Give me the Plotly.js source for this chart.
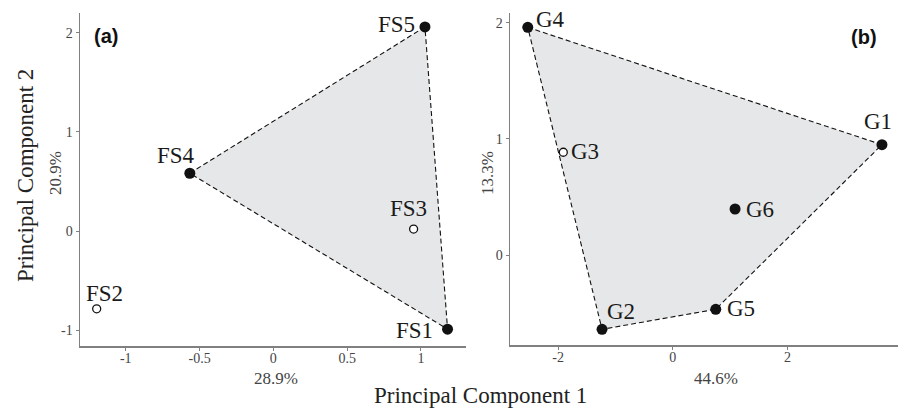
<!DOCTYPE html>
<html>
<head>
<meta charset="utf-8">
<script src="https://cdn.plot.ly/plotly-3.0.1.min.js"></script>
<style>html,body{margin:0;padding:0;background:#fff}#chart{width:901px;height:408px}</style>
</head>
<body>
<div id="chart"></div>
<script>
// Panel (a)
const labelsA = ["FS1", "FS2", "FS3", "FS4", "FS5"];
const pc1A = [1.18, -1.197, 0.95, -0.566, 1.027];
const pc2A = [-0.99, -0.785, 0.02, 0.583, 2.06];
const filledA = [true, false, false, true, true];
const hullA = ["FS5", "FS4", "FS1"];
// Panel (b)
const labelsB = ["G1", "G2", "G3", "G4", "G5", "G6"];
const pc1B = [3.65, -1.234, -1.91, -2.53, 0.75, 1.087];
const pc2B = [0.951, -0.636, 0.886, 1.96, -0.464, 0.398];
const filledB = [true, true, false, true, true, true];
const hullB = ["G4", "G1", "G5", "G2"];
// Tick labels
const xTicksA = [-1, -0.5, 0, 0.5, 1];
const xTickTextA = ["-1", "-0.5", "0", "0.5", "1"];
const yTicksA = [-1, 0, 1, 2];
const yTickTextA = ["-1", "0", "1", "2"];
const xTicksB = [-2, 0, 2];
const xTickTextB = ["-2", "0", "2"];
const yTicksB = [0, 1, 2];
const yTickTextB = ["0", "1", "2"];
const varA = ["28.9%", "20.9%"];
const varB = ["44.6%", "13.3%"];

// label placement (style)
const placeA = {
  FS1: {xa: "right", dx: -13, dy: -1},
  FS2: {xa: "center", dx: 8, dy: 15},
  FS3: {xa: "center", dx: -5, dy: 21},
  FS4: {xa: "right", dx: 7, dy: 18},
  FS5: {xa: "right", dx: -8, dy: 2}
};
const placeB = {
  G1: {xa: "center", dx: -4, dy: 23},
  G2: {xa: "left", dx: 3, dy: 18},
  G3: {xa: "left", dx: 6, dy: 1},
  G4: {xa: "left", dx: 6, dy: 8},
  G5: {xa: "left", dx: 9, dy: 1},
  G6: {xa: "left", dx: 9, dy: 0}
};

const serif = "Liberation Serif, Times New Roman, serif";

function hullTrace(labels, xs, ys, hull, xa, ya) {
  const hx = [], hy = [];
  hull.concat([hull[0]]).forEach(l => { const i = labels.indexOf(l); hx.push(xs[i]); hy.push(ys[i]); });
  return {x: hx, y: hy, xaxis: xa, yaxis: ya, mode: "lines", fill: "toself",
    fillcolor: "#e6e7e8", line: {color: "#111", width: 1.1, dash: "5px,3px"}, hoverinfo: "skip", showlegend: false};
}
function pointTraces(labels, xs, ys, filled, xa, ya) {
  const fx = [], fy = [], ox = [], oy = [];
  labels.forEach((l, i) => { if (filled[i]) { fx.push(xs[i]); fy.push(ys[i]); } else { ox.push(xs[i]); oy.push(ys[i]); } });
  return [
    {x: fx, y: fy, xaxis: xa, yaxis: ya, mode: "markers", marker: {color: "#111", size: 11}, showlegend: false},
    {x: ox, y: oy, xaxis: xa, yaxis: ya, mode: "markers", marker: {color: "#fff", size: 8, line: {color: "#111", width: 1.3}}, showlegend: false}
  ];
}
function labelAnns(labels, xs, ys, place, xref, yref) {
  return labels.map((l, i) => ({x: xs[i], y: ys[i], xref: xref, yref: yref, text: l, showarrow: false,
    xanchor: place[l].xa, yanchor: "middle", xshift: place[l].dx, yshift: place[l].dy,
    font: {family: serif, size: 23, color: "#1a1a1a"}}));
}

const data = [
  hullTrace(labelsA, pc1A, pc2A, hullA, "x", "y"),
  ...pointTraces(labelsA, pc1A, pc2A, filledA, "x", "y"),
  hullTrace(labelsB, pc1B, pc2B, hullB, "x2", "y2"),
  ...pointTraces(labelsB, pc1B, pc2B, filledB, "x2", "y2")
];

const W = 901, H = 408;
const axisCommon = {showline: true, linecolor: "#808080", linewidth: 1.5, ticks: "outside", ticklen: 3,
  tickcolor: "#808080", tickwidth: 1, showgrid: false, zeroline: false,
  tickfont: {family: serif, size: 14, color: "#444"}, fixedrange: true};

const layout = {
  width: W, height: H, margin: {l: 0, r: 0, t: 0, b: 0},
  paper_bgcolor: "#fff", plot_bgcolor: "#fff", showlegend: false,
  xaxis: Object.assign({}, axisCommon, {domain: [80 / W, 466 / W], range: [-1.31, 1.305], anchor: "y",
    tickmode: "array", tickvals: xTicksA, ticktext: xTickTextA, ticklabelstandoff: -4}),
  yaxis: Object.assign({}, axisCommon, {domain: [1 - 346 / H, 1 - 13 / H], range: [-1.16, 2.2], anchor: "x",
    tickmode: "array", tickvals: yTicksA, ticktext: yTickTextA}),
  xaxis2: Object.assign({}, axisCommon, {domain: [510 / W, 898 / W], range: [-2.84, 3.93], anchor: "y2",
    tickmode: "array", tickvals: xTicksB, ticktext: xTickTextB, ticklabelstandoff: -4}),
  yaxis2: Object.assign({}, axisCommon, {domain: [1 - 345 / H, 1 - 13 / H], range: [-0.771, 2.083], anchor: "x2",
    tickmode: "array", tickvals: yTicksB, ticktext: yTickTextB}),
  annotations: [
    ...labelAnns(labelsA, pc1A, pc2A, placeA, "x", "y"),
    ...labelAnns(labelsB, pc1B, pc2B, placeB, "x2", "y2"),
    {xref: "paper", yref: "paper", x: 106 / W, y: 1 - 36 / H, text: "<b>(a)</b>", showarrow: false, xanchor: "center", yanchor: "middle",
      font: {family: "Liberation Sans, Arial, sans-serif", size: 20, color: "#111"}},
    {xref: "paper", yref: "paper", x: 864 / W, y: 1 - 37 / H, text: "<b>(b)</b>", showarrow: false, xanchor: "center", yanchor: "middle",
      font: {family: "Liberation Sans, Arial, sans-serif", size: 20, color: "#111"}},
    {xref: "paper", yref: "paper", x: 276 / W, y: 1 - 378 / H, text: varA[0], showarrow: false, xanchor: "center", yanchor: "middle",
      font: {family: serif, size: 17, color: "#444"}},
    {xref: "paper", yref: "paper", x: 55 / W, y: 1 - 173 / H, text: varA[1], showarrow: false, textangle: -90, xanchor: "center", yanchor: "middle",
      font: {family: serif, size: 17, color: "#444"}},
    {xref: "paper", yref: "paper", x: 716 / W, y: 1 - 378 / H, text: varB[0], showarrow: false, xanchor: "center", yanchor: "middle",
      font: {family: serif, size: 17, color: "#444"}},
    {xref: "paper", yref: "paper", x: 487 / W, y: 1 - 173 / H, text: varB[1], showarrow: false, textangle: -90, xanchor: "center", yanchor: "middle",
      font: {family: serif, size: 17, color: "#444"}},
    {xref: "paper", yref: "paper", x: 480 / W, y: 1 - 395 / H, text: "Principal Component 1", showarrow: false, xanchor: "center", yanchor: "middle",
      font: {family: serif, size: 23, color: "#222"}},
    {xref: "paper", yref: "paper", x: 25 / W, y: 1 - 176 / H, text: "Principal Component 2", showarrow: false, textangle: -90, xanchor: "center", yanchor: "middle",
      font: {family: serif, size: 23, color: "#222"}}
  ]
};

Plotly.newPlot("chart", data, layout, {displayModeBar: false, staticPlot: true});
</script>
</body>
</html>
